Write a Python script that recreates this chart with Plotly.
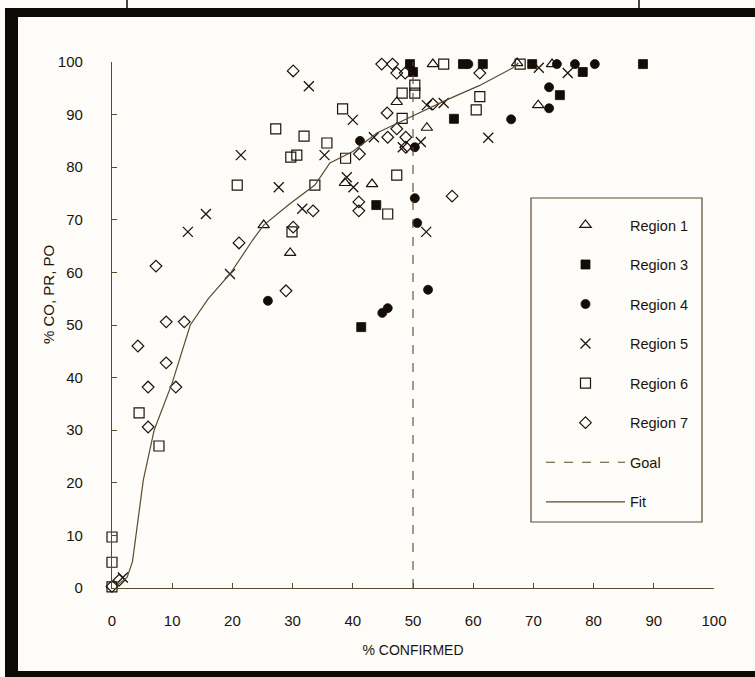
import plotly.graph_objects as go

# ---------------- data ----------------
r1_x = [25.2, 29.6, 38.7, 43.2, 47.3, 52.3, 53.3, 67.3, 70.8, 73.1]
r1_y = [69.0, 63.7, 77.0, 76.8, 92.4, 87.5, 99.6, 99.8, 91.8, 99.6]

r3_x = [41.4, 43.9, 49.5, 50.0, 56.8, 58.3, 61.6, 69.8, 74.4, 78.2, 88.2]
r3_y = [49.6, 72.8, 99.6, 98.1, 89.2, 99.6, 99.6, 99.6, 93.7, 98.1, 99.6]

r4_x = [25.9, 41.2, 44.9, 45.8, 50.3, 50.3, 50.7, 52.5, 59.2, 66.3, 72.6, 72.6, 73.9, 76.9, 80.2]
r4_y = [54.6, 85.0, 52.3, 53.2, 83.8, 74.1, 69.4, 56.7, 99.6, 89.1, 95.2, 91.2, 99.6, 99.6, 99.6]

r5_x = [1.8, 12.6, 15.6, 19.6, 21.4, 27.7, 31.6, 32.7, 35.3, 39.0, 40.1, 40.0, 43.5,
        48.3, 51.3, 52.2, 52.3, 55.1, 62.5, 70.9, 75.7]
r5_y = [2.0, 67.7, 71.1, 59.7, 82.3, 76.2, 72.1, 95.4, 82.3, 78.1, 76.2, 89.0, 85.7,
        83.8, 84.8, 67.7, 91.8, 92.2, 85.6, 98.9, 97.9]

r6_x = [0, 0, 0, 4.5, 7.8, 20.8, 27.2, 29.7, 29.9, 30.7, 31.9, 33.7, 35.7, 38.3, 38.8,
        45.8, 47.3, 48.2, 48.2, 50.3, 50.3, 55.1, 60.5, 61.1, 67.8]
r6_y = [0.2, 4.9, 9.7, 33.3, 27.0, 76.6, 87.3, 81.9, 67.7, 82.3, 85.9, 76.6, 84.6, 91.1, 81.7,
        71.1, 78.5, 89.3, 94.1, 94.1, 95.6, 99.6, 90.9, 93.4, 99.6]

r7_x = [0, 1.2, 4.3, 6.0, 6.0, 7.3, 9.0, 9.0, 10.6, 12.0, 21.1, 28.9, 30.1, 30.1, 33.4,
        41.0, 41.0, 41.1, 44.8, 45.7, 45.8, 46.6, 47.3, 47.3, 48.7, 48.8, 48.8, 53.3, 56.5, 61.1]
r7_y = [0.3, 1.5, 46.0, 38.2, 30.6, 61.2, 50.6, 42.8, 38.2, 50.6, 65.6, 56.5, 98.3, 68.6, 71.7,
        73.4, 71.7, 82.5, 99.6, 90.3, 85.7, 99.6, 97.9, 87.3, 97.9, 85.7, 83.8, 92.0, 74.5, 97.9]

goal_x = [50, 50]
goal_y = [0, 100]

fit_x = [0.8, 2.5, 3.4, 4.2, 5.2, 7.0, 10.0, 13.0, 16.0, 19.6, 23.4, 25.2, 29.5, 33.7,
         36.2, 40.0, 44.0, 49.5, 55.6, 61.0, 66.6, 67.5]
fit_y = [0.5, 2.0, 5.0, 12.0, 20.5, 30.0, 39.0, 50.0, 55.0, 59.7, 66.2, 69.0, 73.0, 76.6,
         80.8, 83.0, 86.5, 89.5, 92.8, 95.5, 98.9, 99.8]

x_ticks = [0, 10, 20, 30, 40, 50, 60, 70, 80, 90, 100]
y_ticks = [0, 10, 20, 30, 40, 50, 60, 70, 80, 90, 100]

series_names = ["Region 1", "Region 3", "Region 4", "Region 5", "Region 6", "Region 7"]

# ---------------- style ----------------
W, H = 755, 677
PL, PR, PT, PB = 112, 714, 62, 588
INK = "#1c140c"
LINE = "#5a4a2e"
FONT = "Liberation Sans, Arial, Helvetica, sans-serif"


def px_x(p):
    return (p - PL) / (PR - PL)


def px_y(p):
    return (PB - p) / (PB - PT)


fig = go.Figure()

styles = [
    (r1_x, r1_y, dict(symbol="triangle-up-open", size=10, color=INK, line=dict(width=1.2, color=INK))),
    (r3_x, r3_y, dict(symbol="square", size=9, color="#140c06", line=dict(width=0.8, color="#140c06"))),
    (r4_x, r4_y, dict(symbol="circle", size=9, color="#140c06", line=dict(width=0.8, color="#140c06"))),
    (r5_x, r5_y, dict(symbol="x-thin-open", size=10, color=INK, line=dict(width=1.3, color=INK))),
    (r6_x, r6_y, dict(symbol="square-open", size=10, color=INK, line=dict(width=1.2, color=INK))),
    (r7_x, r7_y, dict(symbol="diamond-open", size=9, color=INK, line=dict(width=1.2, color=INK))),
]

for i, (xs, ys, mk) in enumerate(styles):
    fig.add_trace(go.Scatter(
        x=xs, y=ys, mode="markers", name=series_names[i], marker=mk,
        cliponaxis=False, legendgroup=f"g{i}",
    ))

fig.add_trace(go.Scatter(
    x=goal_x, y=goal_y, mode="lines", name="Goal",
    line=dict(color=LINE, width=1.1, dash="dash"), legendgroup="goal", cliponaxis=False,
))
fig.add_trace(go.Scatter(
    x=fit_x, y=fit_y, mode="lines", name="Fit",
    line=dict(color=LINE, width=1.2), legendgroup="fit", cliponaxis=False,
))

axis_common = dict(
    showgrid=False, zeroline=False, showline=True, linecolor=LINE, linewidth=1.2,
    ticks="inside", ticklen=5, tickwidth=1, tickcolor=LINE,
    tickfont=dict(family=FONT, size=15, color=INK),
    range=[0, 100], fixedrange=True,
)

fig.update_xaxes(**axis_common, tickvals=x_ticks, ticktext=[str(v) for v in x_ticks],
                 ticklabelstandoff=19,
                 title=dict(text="% CONFIRMED", font=dict(family=FONT, size=14, color=INK), standoff=17))
fig.update_yaxes(**axis_common, tickvals=y_ticks, ticktext=[str(v) for v in y_ticks],
                 ticklabelstandoff=25)

shapes = []
# legend box
shapes.append(dict(type="rect", xref="paper", yref="paper",
                   x0=px_x(531), x1=px_x(702), y0=px_y(198), y1=px_y(522),
                   line=dict(color=LINE, width=1.2), fillcolor="rgba(0,0,0,0)"))
# page frame of the scan
FR = "#0e0a06"
shapes.append(dict(type="rect", xref="paper", yref="paper", layer="above",
                   x0=px_x(5), x1=px_x(760), y0=px_y(8), y1=px_y(17), line=dict(width=0), fillcolor=FR))
shapes.append(dict(type="rect", xref="paper", yref="paper", layer="above",
                   x0=px_x(5), x1=px_x(18), y0=px_y(8), y1=px_y(680), line=dict(width=0), fillcolor=FR))
shapes.append(dict(type="rect", xref="paper", yref="paper", layer="above",
                   x0=px_x(5), x1=px_x(760), y0=px_y(671), y1=px_y(680), line=dict(width=0), fillcolor=FR))
shapes.append(dict(type="line", xref="paper", yref="paper",
                   x0=px_x(127), x1=px_x(127), y0=px_y(0), y1=px_y(8), line=dict(color=FR, width=1.5)))
shapes.append(dict(type="line", xref="paper", yref="paper",
                   x0=px_x(639), x1=px_x(639), y0=px_y(0), y1=px_y(8), line=dict(color=FR, width=1.5)))

fig.update_layout(
    width=W, height=H,
    margin=dict(l=PL, r=W - PR, t=PT, b=H - PB),
    paper_bgcolor="#fdfcf8", plot_bgcolor="#fdfcf8",
    font=dict(family=FONT, size=14, color=INK),
    shapes=shapes,
    showlegend=True,
    legend=dict(
        x=px_x(541), y=px_y(209), xanchor="left", yanchor="top",
        bgcolor="rgba(0,0,0,0)", borderwidth=0,
        font=dict(family=FONT, size=14.5, color=INK),
        tracegroupgap=17.7, itemwidth=79, traceorder="grouped",
    ),
    annotations=[dict(
        text="% CO, PR, PO", xref="paper", yref="paper",
        x=px_x(48), y=px_y(295), textangle=-90, showarrow=False,
        font=dict(family=FONT, size=15, color=INK), xanchor="center", yanchor="middle",
    )],
)

fig.write_html(
    "out.html",
    config={"displayModeBar": False},
    post_script="document.body.style.margin='0';document.body.style.padding='0';",
)
